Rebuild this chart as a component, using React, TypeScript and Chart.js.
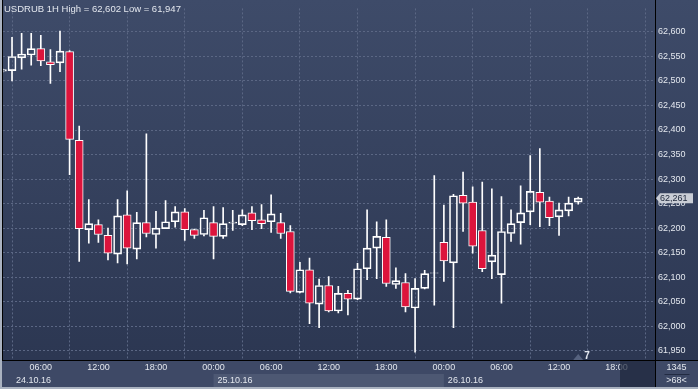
import { useEffect, useRef } from "react";
import { Chart, registerables } from "chart.js";

Chart.register(...registerables);

// ---- data ----
const symbol = "USDRUB 1H";
// hour offset (from 24.10.16 00:00) of the first candle; candles are hourly
const firstHour = 2;
const opens = [
  62.520, 62.521, 62.547, 62.553, 62.566, 62.539, 62.537, 62.560, 62.379, 62.197,
  62.207, 62.185, 62.147, 62.227, 62.157, 62.211, 62.187, 62.199, 62.213, 62.233,
  62.197, 62.187, 62.211, 62.183, 62.210, 62.207, 62.231, 62.217, 62.213, 62.211,
  62.193, 62.069, 62.115, 62.045, 62.083, 62.031, 62.067, 62.055, 62.117, 62.159,
  62.181, 62.085, 62.089, 62.037, 62.077, 62.108, 62.171, 62.129, 62.267, 62.253,
  62.195, 62.131, 62.105, 62.189, 62.211, 62.233, 62.273, 62.255, 62.223, 62.235,
  62.253,
];
const highs = [
  62.525, 62.589, 62.597, 62.597, 62.593, 62.564, 62.602, 62.562, 62.408, 62.258,
  62.217, 62.200, 62.258, 62.276, 62.232, 62.392, 62.234, 62.256, 62.244, 62.240,
  62.198, 62.236, 62.244, 62.242, 62.236, 62.237, 62.244, 62.248, 62.268, 62.230,
  62.205, 62.130, 62.139, 62.096, 62.101, 62.081, 62.073, 62.128, 62.237, 62.213,
  62.217, 62.119, 62.107, 62.097, 62.114, 62.307, 62.247, 62.269, 62.314, 62.284,
  62.294, 62.280, 62.264, 62.237, 62.286, 62.348, 62.362, 62.263, 62.251, 62.263,
  62.263,
];
const lows = [
  62.518, 62.500, 62.524, 62.532, 62.531, 62.495, 62.519, 62.309, 62.132, 62.169,
  62.171, 62.135, 62.129, 62.127, 62.137, 62.182, 62.159, 62.199, 62.202, 62.175,
  62.179, 62.184, 62.137, 62.179, 62.195, 62.205, 62.197, 62.199, 62.191, 62.179,
  62.068, 62.068, 62.005, 61.997, 62.029, 62.027, 62.023, 62.054, 62.095, 62.097,
  62.081, 62.077, 62.029, 61.947, 62.076, 62.043, 62.091, 61.997, 62.193, 62.149,
  62.111, 62.097, 62.047, 62.173, 62.167, 62.207, 62.203, 62.205, 62.185, 62.225,
  62.249,
];
const closes = [
  62.523, 62.550, 62.555, 62.566, 62.541, 62.533, 62.561, 62.381, 62.199, 62.209,
  62.187, 62.149, 62.225, 62.159, 62.211, 62.189, 62.200, 62.213, 62.233, 62.197,
  62.185, 62.221, 62.183, 62.209, 62.212, 62.227, 62.215, 62.209, 62.229, 62.189,
  62.071, 62.115, 62.047, 62.083, 62.031, 62.067, 62.055, 62.117, 62.159, 62.183,
  62.087, 62.093, 62.039, 62.077, 62.107, 62.109, 62.133, 62.266, 62.251, 62.163,
  62.117, 62.145, 62.193, 62.209, 62.231, 62.275, 62.253, 62.221, 62.237, 62.251,
  62.261,
];
const timeTicks = [6, 12, 18, 24, 30, 36, 42, 48, 54, 60, 66];
const priceTicks = [
  61.95, 62.0, 62.05, 62.1, 62.15, 62.2, 62.25, 62.3, 62.35, 62.4, 62.45, 62.5, 62.55, 62.6,
];
const dayLabels = ["24.10.16", "25.10.16", "26.10.16"];
const dayStarts = [0, 24, 48];
const countdown = "7";
const infoTop = "1345";
const infoBottom = ">68<";

// ---- helpers ----
const FONT = '"Liberation Sans", Arial, sans-serif';
const fmt = (v: number) => v.toFixed(3).replace(".", ",");
const hourAt = (i: number) => firstHour + i;
const lastIdx = closes.length - 1;
const titleText = `${symbol} High = ${fmt(Math.max(...highs))} Low = ${fmt(Math.min(...lows))}`;

const bodies = opens.map((o, i) => ({ x: hourAt(i), y: [o, closes[i]] }));
const upperWicks = opens.map((o, i) => ({ x: hourAt(i), y: [Math.max(o, closes[i]), highs[i]] }));
const lowerWicks = opens.map((o, i) => ({ x: hourAt(i), y: [lows[i], Math.min(o, closes[i])] }));

const TEXT = "#e3e7ee";
const GRID = "#5b6784";

const decorPlugin = {
  id: "decor",
  beforeDraw(chart: any) {
    const { ctx, width, height, chartArea: a } = chart;
    const xs = chart.scales.x;
    ctx.save();
    const g = ctx.createLinearGradient(0, 0, 0, a.bottom);
    g.addColorStop(0, "#3e4b69");
    g.addColorStop(1, "#2c3752");
    ctx.fillStyle = g;
    ctx.fillRect(0, 0, width, a.bottom);
    ctx.fillStyle = "#3e4966";
    ctx.fillRect(0, a.bottom, width, height - a.bottom);
    // alternate day band (lower row of time axis)
    dayStarts.forEach((d, i) => {
      if (i % 2 === 1) {
        const x0 = Math.max(a.left, xs.getPixelForValue(d));
        const next = i + 1 < dayStarts.length ? dayStarts[i + 1] : xs.max;
        const x1 = Math.min(a.right, xs.getPixelForValue(next));
        ctx.fillStyle = "#4d5873";
        ctx.fillRect(x0, a.bottom + 14, x1 - x0, height - a.bottom - 16);
      }
    });
    ctx.restore();
  },
  afterDraw(chart: any) {
    const { ctx, width, height, chartArea: a } = chart;
    const xs = chart.scales.x;
    const ys = chart.scales.y;
    ctx.save();

    // date labels
    ctx.font = `9px ${FONT}`;
    ctx.fillStyle = TEXT;
    ctx.textBaseline = "alphabetic";
    ctx.textAlign = "left";
    dayLabels.forEach((lbl, i) => {
      const x = i === 0 ? a.left + 13 : xs.getPixelForValue(dayStarts[i]) + 4;
      ctx.fillText(lbl, x, a.bottom + 23);
    });

    // dimmed region at right of time axis
    ctx.fillStyle = "rgba(30,38,60,0.7)";
    ctx.fillRect(a.right - 35, a.bottom + 1, 35, height - a.bottom - 1);

    // axis lines
    ctx.strokeStyle = "#000000";
    ctx.lineWidth = 1;
    ctx.beginPath();
    ctx.moveTo(a.right + 0.5, 0);
    ctx.lineTo(a.right + 0.5, height);
    ctx.moveTo(0, a.bottom + 0.5);
    ctx.lineTo(width, a.bottom + 0.5);
    ctx.moveTo(2.5, 0);
    ctx.lineTo(2.5, a.bottom);
    ctx.stroke();

    // outer light frame
    ctx.fillStyle = "#aab2c0";
    ctx.fillRect(0, 0, 2, height);
    ctx.fillRect(0, height - 2, width, 2);

    // info box bottom-right
    const cx = (a.right + width) / 2;
    ctx.font = `9px ${FONT}`;
    ctx.fillStyle = TEXT;
    ctx.textAlign = "center";
    ctx.textBaseline = "middle";
    ctx.fillText(infoTop, cx, a.bottom + 8);
    ctx.fillText(infoBottom, cx, a.bottom + 21);
    ctx.strokeStyle = "#222b42";
    ctx.beginPath();
    ctx.moveTo(cx - 12, a.bottom + 14.5);
    ctx.lineTo(cx + 13, a.bottom + 14.5);
    ctx.stroke();

    // last price marker
    const py = ys.getPixelForValue(closes[lastIdx]);
    ctx.fillStyle = "#c9cdd5";
    ctx.beginPath();
    ctx.moveTo(a.right + 1, py);
    ctx.lineTo(a.right + 5, py - 5);
    ctx.lineTo(a.right + 38, py - 5);
    ctx.lineTo(a.right + 38, py + 5);
    ctx.lineTo(a.right + 5, py + 5);
    ctx.closePath();
    ctx.fill();
    ctx.fillStyle = "#1c2539";
    ctx.textAlign = "left";
    ctx.textBaseline = "middle";
    ctx.fillText(fmt(closes[lastIdx]), a.right + 5, py + 0.5);

    // countdown marker
    const lx = xs.getPixelForValue(hourAt(lastIdx));
    ctx.fillStyle = "#56627e";
    ctx.beginPath();
    ctx.moveTo(lx, a.bottom - 6);
    ctx.lineTo(lx + 5, a.bottom);
    ctx.lineTo(lx - 5, a.bottom);
    ctx.closePath();
    ctx.fill();
    ctx.fillStyle = TEXT;
    ctx.font = `bold 10px ${FONT}`;
    ctx.textAlign = "left";
    ctx.textBaseline = "alphabetic";
    ctx.fillText(countdown, lx + 6, a.bottom - 1);

    // title
    ctx.font = `9.5px ${FONT}`;
    ctx.fillStyle = TEXT;
    ctx.fillText(titleText, 4, 12);

    ctx.restore();
  },
};

export default function App() {
  const ref = useRef<HTMLCanvasElement | null>(null);
  useEffect(() => {
    if (!ref.current) return;
    const chart = new Chart(ref.current, {
      type: "bar",
      data: {
        datasets: [
          {
            label: "upper",
            data: upperWicks as any,
            backgroundColor: "#ffffff",
            barThickness: 1,
            grouped: false,
            order: 2,
          } as any,
          {
            label: "lower",
            data: lowerWicks as any,
            backgroundColor: "#ffffff",
            barThickness: 1,
            grouped: false,
            order: 2,
          } as any,
          {
            label: "body",
            data: bodies as any,
            backgroundColor: bodies.map((b) => (b.y[1] < b.y[0] ? "#dc143c" : "rgba(0,0,0,0)")),
            borderColor: "#ffffff",
            borderWidth: 1,
            borderSkipped: false,
            barThickness: 8,
            grouped: false,
            order: 1,
          } as any,
        ],
      },
      options: {
        responsive: false,
        animation: false,
        events: [],
        devicePixelRatio: 1,
        layout: { padding: { left: 3, top: 2, right: 0, bottom: 0 } },
        plugins: { legend: { display: false }, tooltip: { enabled: false } },
        scales: {
          x: {
            type: "linear",
            position: "bottom",
            min: 2.06,
            max: 70,
            offset: false,
            afterBuildTicks: (s: any) => {
              s.ticks = timeTicks.map((v) => ({ value: v }));
            },
            afterFit: (s: any) => {
              s.height = 29;
            },
            grid: { color: GRID, lineWidth: 1, drawTicks: false },
            border: { display: false, dash: [2, 2] },
            ticks: {
              color: TEXT,
              font: { family: FONT, size: 9 },
              padding: 2,
              maxRotation: 0,
              autoSkip: false,
              callback: (v: any) => `${String(Number(v) % 24).padStart(2, "0")}:00`,
            },
          },
          y: {
            type: "linear",
            position: "right",
            min: 61.931,
            max: 62.648,
            afterBuildTicks: (s: any) => {
              s.ticks = priceTicks.map((v) => ({ value: v }));
            },
            afterFit: (s: any) => {
              s.width = 43;
            },
            grid: { color: GRID, lineWidth: 1, drawTicks: false },
            border: { display: false, dash: [2, 2] },
            ticks: {
              color: TEXT,
              font: { family: FONT, size: 9 },
              padding: 3,
              autoSkip: false,
              callback: (v: any) => fmt(Number(v)),
            },
          },
        },
      } as any,
      plugins: [decorPlugin],
    });
    return () => chart.destroy();
  }, []);
  return (
    <div style={{ position: "absolute", left: 0, top: 0, width: 698, height: 389 }}>
      <canvas ref={ref} width={698} height={389} style={{ display: "block" }} />
    </div>
  );
}
